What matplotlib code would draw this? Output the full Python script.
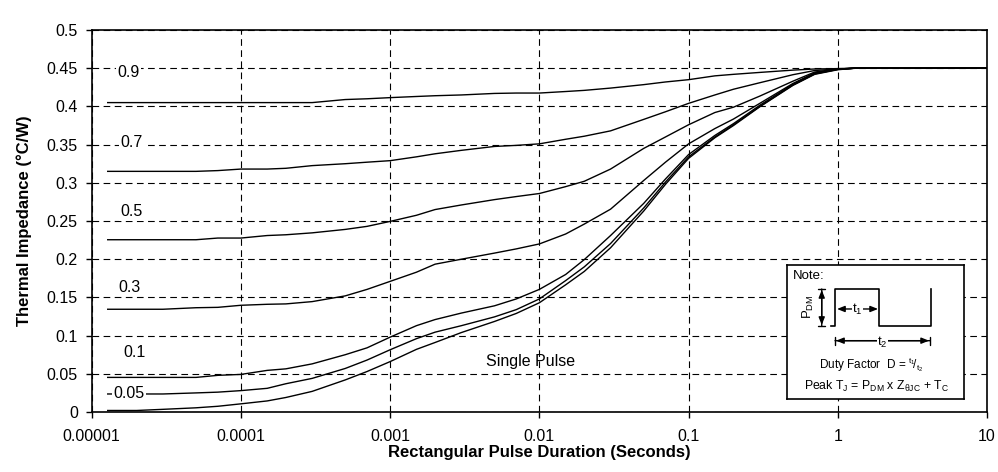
import numpy as np
import matplotlib.pyplot as plt

plt.rcParams['font.family'] = ['Liberation Sans', 'DejaVu Sans']
plt.rcParams['mathtext.fontset'] = 'custom'
plt.rcParams['mathtext.rm'] = 'Liberation Sans'
plt.rcParams['mathtext.it'] = 'Liberation Sans:italic'

# pulse duration (s), shared by every curve
pulse_s = [1.28e-5, 2e-5, 3e-5, 5e-5, 7e-5, 1e-4, 1.5e-4, 2e-4, 3e-4, 5e-4, 7e-4,
           1e-3, 1.5e-3, 2e-3, 3e-3, 5e-3, 7e-3, 1e-2, 1.5e-2, 2e-2, 3e-2, 5e-2, 7e-2,
           0.1, 0.15, 0.2, 0.3, 0.5, 0.7, 1.0, 1.3, 10.0]

# thermal impedance (C/W) for each duty factor
z_d09 = [0.405, 0.405, 0.405, 0.405, 0.405, 0.405, 0.405, 0.405, 0.405, 0.409, 0.410,
         0.4115, 0.413, 0.414, 0.415, 0.417, 0.4175, 0.4175, 0.4195, 0.421, 0.424, 0.4285, 0.432,
         0.435, 0.440, 0.442, 0.4445, 0.4475, 0.449, 0.4495, 0.45, 0.45]
z_d07 = [0.315, 0.315, 0.315, 0.315, 0.316, 0.318, 0.318, 0.319, 0.3225, 0.325, 0.327,
         0.329, 0.334, 0.338, 0.3425, 0.3476, 0.349, 0.351, 0.357, 0.361, 0.368, 0.383, 0.393,
         0.404, 0.415, 0.4225, 0.431, 0.4415, 0.447, 0.449, 0.45, 0.45]
z_d05 = [0.2255, 0.2255, 0.2255, 0.2255, 0.2277, 0.2277, 0.231, 0.232, 0.2345, 0.239, 0.243,
         0.2495, 0.2575, 0.265, 0.271, 0.278, 0.282, 0.286, 0.295, 0.302, 0.318, 0.345, 0.360,
         0.376, 0.392, 0.399, 0.4135, 0.433, 0.445, 0.449, 0.45, 0.45]
z_d03 = [0.1345, 0.1345, 0.1345, 0.1365, 0.137, 0.1397, 0.141, 0.1415, 0.1445, 0.152, 0.1605,
         0.171, 0.183, 0.1935, 0.200, 0.208, 0.2135, 0.220, 0.233, 0.246, 0.2655, 0.303, 0.327,
         0.351, 0.371, 0.3835, 0.404, 0.430, 0.444, 0.449, 0.45, 0.45]
z_d01 = [0.0453, 0.0453, 0.0453, 0.0453, 0.048, 0.0492, 0.0545, 0.0565, 0.063, 0.075, 0.084,
         0.098, 0.113, 0.121, 0.1295, 0.139, 0.148, 0.1605, 0.180, 0.1995, 0.231, 0.273, 0.305,
         0.337, 0.362, 0.3775, 0.4015, 0.429, 0.443, 0.4485, 0.45, 0.45]
z_d005 = [0.0236, 0.0236, 0.0236, 0.025, 0.026, 0.028, 0.031, 0.037, 0.044, 0.057, 0.068,
          0.0815, 0.096, 0.1045, 0.113, 0.1245, 0.134, 0.148, 0.172, 0.190, 0.2205, 0.267, 0.301,
          0.334, 0.360, 0.376, 0.400, 0.428, 0.4425, 0.4485, 0.45, 0.45]
z_single = [0.002, 0.002, 0.0035, 0.0055, 0.0075, 0.0107, 0.0145, 0.019, 0.027, 0.042, 0.053,
            0.066, 0.082, 0.091, 0.104, 0.1185, 0.129, 0.143, 0.1665, 0.184, 0.215, 0.263, 0.298,
            0.332, 0.359, 0.375, 0.3995, 0.4275, 0.442, 0.448, 0.45, 0.45]

curves = [z_d09, z_d07, z_d05, z_d03, z_d01, z_d005, z_single]

curve_labels = ['0.9', '0.7', '0.5', '0.3', '0.1', '0.05', 'Single Pulse']
label_x = [1.77e-5, 1.86e-5, 1.86e-5, 1.78e-5, 1.94e-5, 1.78e-5, 8.74e-3]
label_y = [0.4445, 0.3525, 0.2622, 0.1636, 0.0785, 0.0245, 0.0658]

x_ticks = [1e-5, 1e-4, 1e-3, 1e-2, 1e-1, 1, 10]
x_tick_labels = ['0.00001', '0.0001', '0.001', '0.01', '0.1', '1', '10']
y_ticks = [0, 0.05, 0.1, 0.15, 0.2, 0.25, 0.3, 0.35, 0.4, 0.45, 0.5]
y_tick_labels = ['0', '0.05', '0.1', '0.15', '0.2', '0.25', '0.3', '0.35', '0.4', '0.45', '0.5']

fig = plt.figure(figsize=(9.98, 4.72), dpi=100)
ax = fig.add_axes([0.0919, 0.1271, 0.8971, 0.8093])

for z in curves:
    ax.plot(pulse_s, z, color='black', lw=1.0, zorder=3)

ax.set_xscale('log')
ax.set_xlim(1e-5, 10)
ax.set_ylim(0, 0.5)
ax.set_xticks(x_ticks)
ax.set_xticklabels(x_tick_labels)
ax.xaxis.set_minor_locator(plt.NullLocator())
ax.set_yticks(y_ticks)
ax.set_yticklabels(y_tick_labels)
ax.tick_params(axis='both', direction='out', length=4, width=1, labelsize=11.5)
ax.tick_params(axis='x', pad=8)
ax.tick_params(axis='y', pad=6)
for sp in ax.spines.values():
    sp.set_linewidth(1.2)

ax.grid(True, color='black', linestyle=(0, (6, 4)), linewidth=0.8)
ax.set_axisbelow(True)

ax.set_xlabel('Rectangular Pulse Duration (Seconds)', fontsize=12, fontweight='bold')
ax.set_ylabel('Thermal Impedance (°C/W)', fontsize=12, fontweight='bold')
ax.xaxis.set_label_coords(0.5, -0.086)
ax.yaxis.set_label_coords(-0.0667, 0.5)

for lab, lx, ly in zip(curve_labels, label_x, label_y):
    if lab == 'Single Pulse':
        ax.text(lx, ly, lab, ha='center', va='center', fontsize=11.5, zorder=5)
    else:
        ax.text(lx, ly, lab, ha='center', va='center', fontsize=11.5, zorder=5,
                bbox=dict(facecolor='white', edgecolor='none', pad=1))

# note box with the pulse sketch (pixel-like units inside the box)
ax_in = fig.add_axes([0.7886, 0.1547, 0.1774, 0.2839], zorder=10)
ax_in.set_xlim(0, 177)
ax_in.set_ylim(134, 0)
ax_in.set_xticks([])
ax_in.set_yticks([])
ax_in.set_facecolor('white')
for sp in ax_in.spines.values():
    sp.set_linewidth(1.2)

ax_in.text(6, 11, 'Note:', fontsize=9.5, ha='left', va='center')
ax_in.plot([44, 48, 48, 92, 92, 144, 144], [61, 61, 24, 24, 61, 61, 24], color='black', lw=1.2)
ax_in.annotate('', xy=(34.7, 24), xytext=(34.7, 61),
               arrowprops=dict(arrowstyle='|-|,widthA=0.25,widthB=0.25', lw=1.0, color='black',
                               shrinkA=0, shrinkB=0))
ax_in.annotate('', xy=(34.7, 25), xytext=(34.7, 60),
               arrowprops=dict(arrowstyle='<|-|>,head_length=0.45,head_width=0.18', lw=1.0,
                               color='black', shrinkA=0, shrinkB=0))
ax_in.text(21, 42, 'P$_{\\mathrm{DM}}$', rotation=90, fontsize=9.5, ha='center', va='center')

ax_in.annotate('', xy=(50, 44), xytext=(91, 44),
               arrowprops=dict(arrowstyle='<|-|>,head_length=0.45,head_width=0.18', lw=1.0,
                               color='black', shrinkA=0, shrinkB=0))
ax_in.text(70.5, 44, 't$_1$', fontsize=9.5, ha='center', va='center',
           bbox=dict(facecolor='white', edgecolor='none', pad=0.5))

ax_in.annotate('', xy=(48, 75.7), xytext=(143, 75.7),
               arrowprops=dict(arrowstyle='|-|,widthA=0.3,widthB=0.3', lw=1.0, color='black',
                               shrinkA=0, shrinkB=0))
ax_in.annotate('', xy=(49, 75.7), xytext=(142, 75.7),
               arrowprops=dict(arrowstyle='<|-|>,head_length=0.45,head_width=0.18', lw=1.0,
                               color='black', shrinkA=0, shrinkB=0))
ax_in.text(95.5, 77, 't$_2$', fontsize=9.5, ha='center', va='center',
           bbox=dict(facecolor='white', edgecolor='none', pad=0.5))

ax_in.text(84, 100, 'Duty Factor  D = $^{\\mathrm{t}_1}\\!/_{\\mathrm{t}_2}$', fontsize=8.5,
           ha='center', va='center')
ax_in.text(89, 121, 'Peak T$_{\\mathrm{J}}$ = P$_{\\mathrm{DM}}$ x Z$_{\\mathrm{\\theta JC}}$ + T$_{\\mathrm{C}}$',
           fontsize=8.8, ha='center', va='center')

fig.savefig('out.png', dpi=100)
